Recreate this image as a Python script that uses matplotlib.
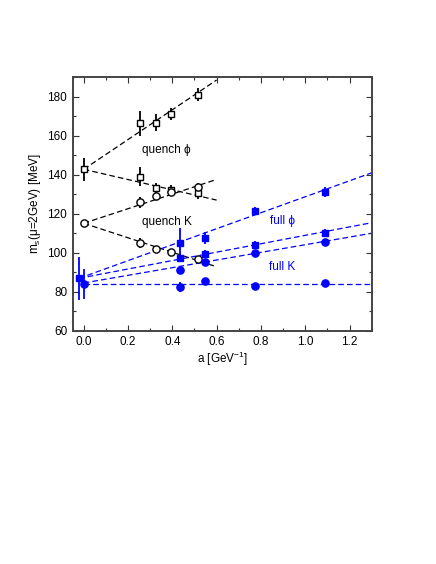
import matplotlib
matplotlib.use("Agg")
import matplotlib.pyplot as plt
import numpy as np
from matplotlib.ticker import MultipleLocator

plt.rcParams['font.family'] = ['Liberation Sans', 'DejaVu Sans']
plt.rcParams['mathtext.fontset'] = 'custom'
plt.rcParams['mathtext.rm'] = 'Liberation Sans'
plt.rcParams['mathtext.it'] = 'Liberation Sans:italic'

# ---- data ----
# quenched phi (open squares)
q_phi0_x = [0.0]; q_phi0_y = [142.8]; q_phi0_e = [5.8]
q_phi_up_x = [0.253, 0.325, 0.392, 0.516]
q_phi_up_y = [166.4, 166.7, 171.1, 181.0]
q_phi_up_e = [6.5, 4.3, 3.0, 3.4]
q_phi_lo_x = [0.253, 0.325, 0.392, 0.516]
q_phi_lo_y = [139.0, 133.0, 132.2, 130.5]
q_phi_lo_e = [5.0, 3.0, 2.5, 3.0]
# quenched K (open circles)
q_k0_x = [0.0]; q_k0_y = [115.1]; q_k0_e = [1.5]
q_k_up_x = [0.253, 0.325, 0.392, 0.516]
q_k_up_y = [125.8, 129.0, 131.3, 133.8]
q_k_up_e = [3.0, 1.5, 1.5, 2.0]
q_k_lo_x = [0.253, 0.325, 0.392, 0.516]
q_k_lo_y = [105.1, 102.0, 100.2, 96.6]
q_k_lo_e = [2.5, 1.0, 1.0, 1.0]
# full phi (filled squares)
f_phi0_x = [-0.021]; f_phi0_y = [86.9]; f_phi0_e = [11.0]
f_phi_up_x = [0.436, 0.546, 0.774, 1.09]
f_phi_up_y = [104.8, 107.5, 121.4, 131.3]
f_phi_up_e = [8.0, 3.0, 2.0, 2.5]
f_phi_lo_x = [0.436, 0.546, 0.774, 1.09]
f_phi_lo_y = [97.5, 99.5, 104.0, 110.3]
f_phi_lo_e = [2.5, 2.0, 2.0, 2.0]
# full K (filled circles)
f_k0_x = [0.0]; f_k0_y = [84.0]; f_k0_e = [7.5]
f_k_up_x = [0.436, 0.546, 0.774, 1.09]
f_k_up_y = [91.1, 95.1, 99.7, 105.3]
f_k_up_e = [1.5, 1.0, 1.0, 1.0]
f_k_lo_x = [0.436, 0.546, 0.774, 1.09]
f_k_lo_y = [82.5, 85.3, 82.9, 84.3]
f_k_lo_e = [2.5, 1.0, 1.0, 1.0]

# fit lines: endpoints
q_fit_x = [0.0, 0.6]
q_fit_y = [[142.8, 188.6], [142.8, 127.0], [115.1, 137.6], [115.1, 92.8]]
f_fit_x = [[-0.021, 1.3], [-0.021, 1.3], [0.0, 1.3], [0.0, 1.3]]
f_fit_y = [[86.9, 141.0], [86.9, 115.4], [84.5, 110.0], [84.0, 84.0]]

xticks = [0.0, 0.2, 0.4, 0.6, 0.8, 1.0, 1.2]
yticks = [60, 80, 100, 120, 140, 160, 180]

blue = '#0000ff'

fig = plt.figure(figsize=(4.36, 5.64), dpi=100)
ax = fig.add_axes([0.1667, 0.4136, 0.6858, 0.4494])

for ys in q_fit_y:
    ax.plot(q_fit_x, ys, ls=(0, (4.5, 2.5)), color='black', lw=0.9, zorder=1)
for xs, ys in zip(f_fit_x, f_fit_y):
    ax.plot(xs, ys, ls=(0, (4.5, 2.5)), color=blue, lw=0.9, zorder=1)

def eb(x, y, e, marker, color, filled, ms):
    ax.errorbar(x, y, yerr=e, fmt=marker, color=color, ecolor=color,
                elinewidth=1.3, capsize=0, ms=ms, mew=1.0,
                mfc=color if filled else 'white', mec=color, zorder=3)

for x, y, e in [(q_phi0_x, q_phi0_y, q_phi0_e), (q_phi_up_x, q_phi_up_y, q_phi_up_e),
                (q_phi_lo_x, q_phi_lo_y, q_phi_lo_e)]:
    eb(x, y, e, 's', 'black', False, 4.6)
for x, y, e in [(q_k0_x, q_k0_y, q_k0_e), (q_k_up_x, q_k_up_y, q_k_up_e),
                (q_k_lo_x, q_k_lo_y, q_k_lo_e)]:
    eb(x, y, e, 'o', 'black', False, 5.2)
for x, y, e in [(f_phi0_x, f_phi0_y, f_phi0_e), (f_phi_up_x, f_phi_up_y, f_phi_up_e),
                (f_phi_lo_x, f_phi_lo_y, f_phi_lo_e)]:
    eb(x, y, e, 's', blue, True, 4.6)
for x, y, e in [(f_k0_x, f_k0_y, f_k0_e), (f_k_up_x, f_k_up_y, f_k_up_e),
                (f_k_lo_x, f_k_lo_y, f_k_lo_e)]:
    eb(x, y, e, 'o', blue, True, 5.2)

ax.text(0.262, 152.5, 'quench \u03d5', fontsize=8.5, va='center', ha='left', color='black')
ax.text(0.262, 116.0, 'quench K', fontsize=8.5, va='center', ha='left', color='black')
ax.text(0.839, 116.4, 'full \u03d5', fontsize=8.5, va='center', ha='left', color=blue)
ax.text(0.836, 92.5, 'full K', fontsize=8.5, va='center', ha='left', color=blue)

ax.set_xlim(-0.05, 1.3)
ax.set_ylim(60, 190)
ax.set_xticks(xticks)
ax.set_xticklabels([f'{v:.1f}' for v in xticks])
ax.set_yticks(yticks)
ax.xaxis.set_minor_locator(MultipleLocator(0.1))
ax.yaxis.set_minor_locator(MultipleLocator(10))
ax.tick_params(which='both', direction='in', top=True, right=True, labelsize=8.5,
               color='#333333', pad=4)
ax.tick_params(which='major', length=4, width=0.8)
ax.tick_params(which='minor', length=2.5, width=0.8)
for s in ax.spines.values():
    s.set_linewidth(1.4)
    s.set_color('#444444')

ax.set_xlabel('a [GeV$^{-1}$]', fontsize=8.5, labelpad=1)
ax.set_ylabel('m$_\\mathrm{s}$(\u03bc=2GeV) [MeV]', fontsize=8.5, labelpad=3)

fig.savefig('out.png', dpi=100)
